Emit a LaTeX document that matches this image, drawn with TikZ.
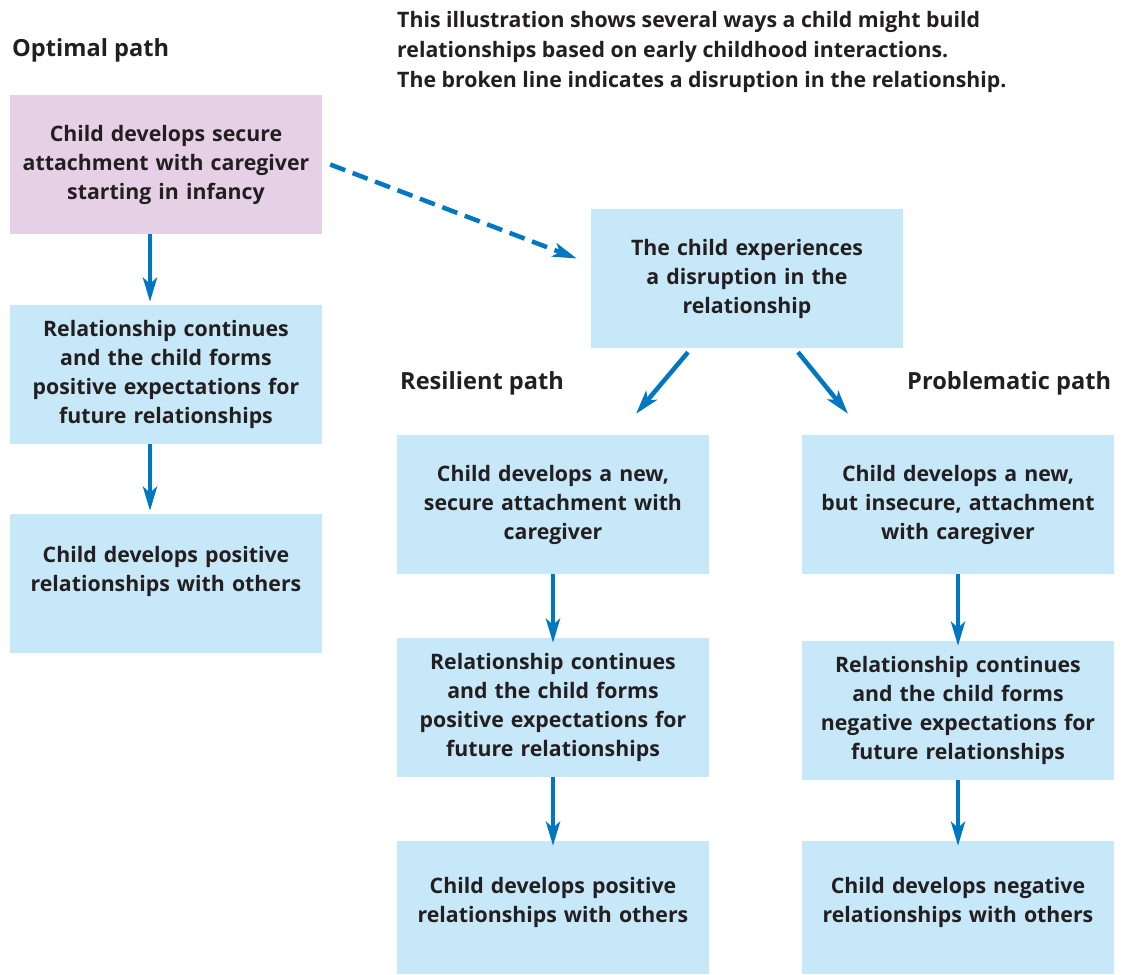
\documentclass[tikz,border=0pt]{standalone}
\usepackage{fontspec}
\setmainfont{Open Sans}
\usetikzlibrary{arrows.meta}

\definecolor{optfill}{RGB}{230,208,230}
\definecolor{boxfill}{RGB}{198,232,248}
\definecolor{arrowblue}{RGB}{0,119,192}
\definecolor{textgray}{RGB}{35,31,32}

\newcommand{\boxfont}{\fontsize{21.3}{29}\selectfont\bfseries}
\newcommand{\headfont}{\fontsize{23.6}{29}\selectfont\bfseries}

\tikzset{
  boxtext/.style={inner sep=0pt, text width=306pt, align=center, font=\boxfont, text=textgray},
  box/.style={boxtext, fill=boxfill, minimum width=312pt, minimum height=139pt},
  optbox/.style={box, fill=optfill},
  heading/.style={anchor=west, inner sep=0pt, font=\headfont, text=textgray},
  note/.style={anchor=west, inner sep=0pt, align=left, font=\fontsize{21.3}{30}\selectfont\bfseries, text=textgray},
  flow/.style={line width=4.5pt, arrowblue, -{Stealth[length=24pt,width=14pt,inset=6pt]}, shorten >=-5pt}
}

\begin{document}
\begin{tikzpicture}[x=1pt,y=-1pt]
%\draw[step=50,gray,very thin] (0,0) grid (1123,974);
\useasboundingbox (0,0) rectangle (1123,974);

\node[heading] (optimal) at (12,50) {Optimal path};

\node[note] (intro) at (397,52) {This illustration shows several ways a child might build\\relationships based on early childhood interactions.\\The broken line indicates a disruption in the relationship.};

% optimal path
\node[optbox] (opt1) at (166,164.5) {Child develops secure\\attachment with caregiver\\starting in infancy};

\node[box] (opt2) at (166,374.5) {Relationship continues\\and the child forms\\positive expectations for\\future relationships};

\node[box] (opt3) at (166,583.5) {};
\node[boxtext] (opt3text) at ([yshift=12pt]opt3.center) {Child develops positive\\relationships with others};

\draw[flow, shorten >=3pt] ([xshift=-16pt]opt1.south) -- ([xshift=-16pt]opt2.north);
\draw[flow, shorten >=3pt] ([xshift=-16pt]opt2.south) -- ([xshift=-16pt]opt3.north);

% disruption
\node[box] (dis) at (747,278.5) {The child experiences\\a disruption in the\\relationship};

\draw[flow, dash pattern=on 16pt off 8pt, shorten >=0pt] ([xshift=8pt]opt1.east) -- ([shift={(-14pt,20pt)}]dis.west);

% resilient path
\node[heading] (resilient) at (400,383) {Resilient path};

\node[box] (res1) at (553,504.5) {Child develops a new,\\secure attachment with\\caregiver};

\node[box] (res2) at (553,707.5) {Relationship continues\\and the child forms\\positive expectations for\\future relationships};

\node[box, minimum height=133pt] (res3) at (553,907.5) {};
\node[boxtext] (res3text) at ([yshift=5pt]res3.center) {Child develops positive\\relationships with others};

\draw[flow, shorten >=0pt] ([shift={(-59pt,-4pt)}]dis.south) -- ([shift={(83pt,21pt)}]res1.north);
\draw[flow] (res1.south) -- (res2.north);
\draw[flow] (res2.south) -- (res3.north);

% problematic path
\node[heading] (problematic) at (907,383) {Problematic path};

\node[box] (prob1) at (958,504.5) {Child develops a new,\\but insecure, attachment\\with caregiver};

\node[box] (prob2) at (958,710.5) {Relationship continues\\and the child forms\\negative expectations for\\future relationships};

\node[box, minimum height=133pt] (prob3) at (958,907.5) {};
\node[boxtext] (prob3text) at ([yshift=5pt]prob3.center) {Child develops negative\\relationships with others};

\draw[flow, shorten >=0pt] ([shift={(51pt,-4pt)}]dis.south) -- ([shift={(-110pt,21pt)}]prob1.north);
\draw[flow] (prob1.south) -- (prob2.north);
\draw[flow] (prob2.south) -- (prob3.north);

\end{tikzpicture}
\end{document}
